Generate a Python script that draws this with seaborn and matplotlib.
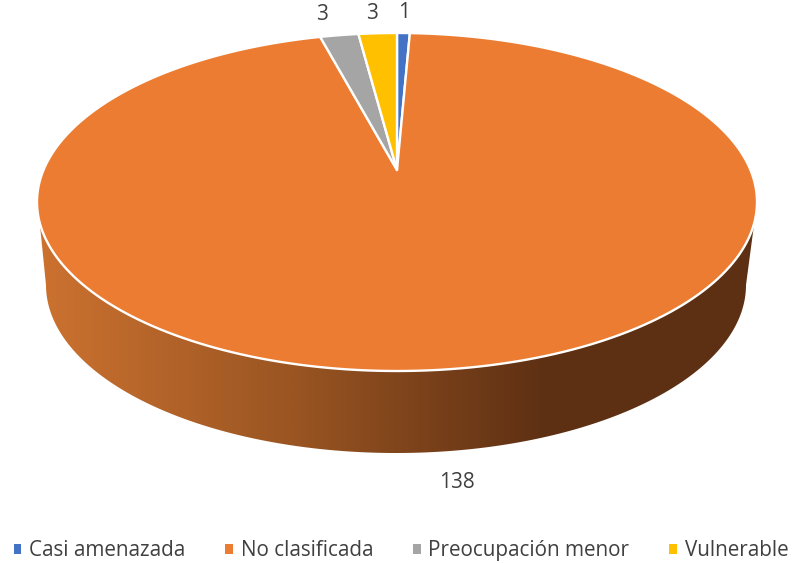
import numpy as np
import matplotlib
matplotlib.use("Agg")
import matplotlib.pyplot as plt
import seaborn as sns
from matplotlib.colors import LinearSegmentedColormap
from matplotlib.patches import Polygon
from matplotlib.path import Path
from matplotlib.transforms import Affine2D, Transform

categories = ["Casi amenazada", "No clasificada", "Preocupación menor", "Vulnerable"]
values = [1, 138, 3, 3]
colors = ["#4472C4", "#EB7C31", "#A5A5A5", "#FFC000"]

sns.set_theme(style="white")
plt.rcParams["font.family"] = ["Open Sans", "DejaVu Sans"]
TEXT = "#404040"

# Perspective of the pie's top face, in pixels of the figure
APEX_X, APEX_Y = 397.0, 170.0
TOP_UP, TOP_DOWN = 137.0, 201.0
HALF_W = 360.0
B = 2.0 / (1.0 / TOP_UP + 1.0 / TOP_DOWN)
K = B / TOP_UP - 1.0
A = HALF_W * np.sqrt(1 - K * K)


class TiltedDisk(Transform):
    input_dims = output_dims = 2
    has_inverse = False
    is_separable = False

    def transform_non_affine(self, xy):
        xy = np.asarray(xy, float)
        w = 1.0 + K * xy[:, 1]
        return np.column_stack([APEX_X + A * xy[:, 0] / w, APEX_Y - B * xy[:, 1] / w])

    def transform_path_non_affine(self, path):
        scale = Affine2D().scale(2000)
        polys = path.to_polygons(transform=scale)
        pts = np.vstack(polys) / 2000.0
        return Path(self.transform_non_affine(pts))


fig = plt.figure(figsize=(7.94, 5.63), dpi=100, facecolor="white")
ax = fig.add_axes([0, 0, 1, 1])

wedges, _ = ax.pie(values, colors=colors, startangle=90, counterclock=False, radius=1.0,
                   wedgeprops=dict(edgecolor="white", linewidth=1.7))
disk = TiltedDisk()
for w in wedges:
    w.set_transform(disk + ax.transData)
    w.set_zorder(3)
    w.set_joinstyle("round")

# Side wall: lower arc of the top face, down to the bottom rim
t = np.linspace(0, 2 * np.pi, 1441)
rim = disk.transform_non_affine(np.column_stack([np.cos(t), np.sin(t)]))
lower = rim[(rim[:, 1] >= 222)]
lower = lower[np.argsort(lower[:, 0])]
s = np.linspace(np.pi, 0, 400)
bottom = np.column_stack([396 + 350 * np.cos(s), 285 + 168 * np.sin(s)])
wall = np.vstack([lower, bottom[::-1]])
clip = Polygon(wall, closed=True, transform=ax.transData, facecolor="none", edgecolor="none")
ax.add_patch(clip)
cmap = LinearSegmentedColormap.from_list("wall", ["#CC7230", "#9A5522", "#5E3013", "#5E3013"])
grad = np.clip((np.linspace(38, 757, 720) - 38) / (545 - 38), 0, 1) * (2 / 3)
im = ax.imshow(grad[None, :], extent=(38, 757, 460, 220), cmap=cmap, vmin=0, vmax=1,
               aspect="auto", zorder=2, interpolation="bilinear")
im.set_clip_path(clip)

ax.set_aspect("auto")
ax.set_xlim(0, 794)
ax.set_ylim(563, 0)
ax.axis("off")

# Data labels
for val, x, y in zip(values, [404, 457, 322, 372], [12.5, 483, 15, 13.5]):
    ax.text(x, y, str(val), ha="center", va="center", fontsize=15, color=TEXT, zorder=5)

leg = ax.legend(wedges, categories, ncol=4, loc="lower left", bbox_to_anchor=(0.0123, -0.004),
                frameon=False, fontsize=14.9, labelcolor=TEXT, handlelength=0.36, handleheight=0.36,
                handletextpad=0.38, columnspacing=1.93, borderaxespad=0.0, borderpad=0.2)
for h in leg.legend_handles:
    h.set_edgecolor("none")

fig.savefig("out.png", dpi=100, facecolor="white")
